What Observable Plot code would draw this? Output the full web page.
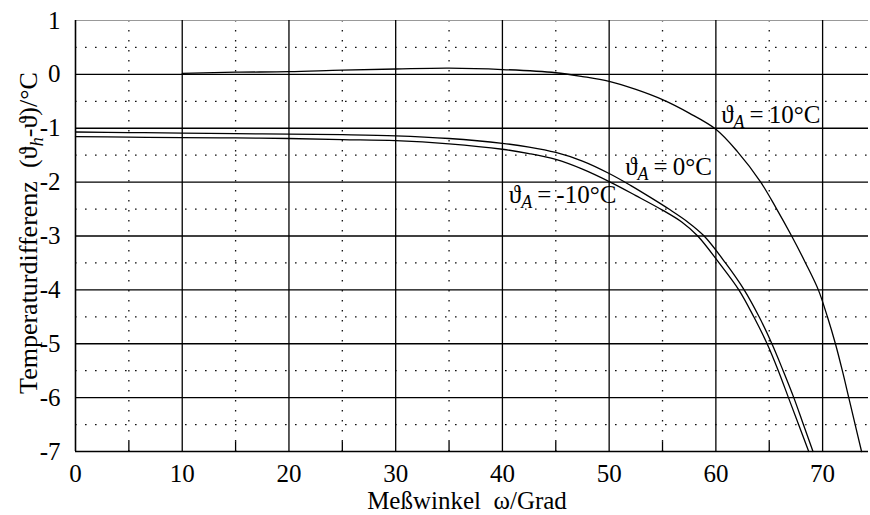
<!DOCTYPE html>
<html><head><meta charset="utf-8">
<script src="https://cdn.jsdelivr.net/npm/d3@7"></script>
<script src="https://cdn.jsdelivr.net/npm/@observablehq/plot@0.6"></script>
<style>body{margin:0;background:#fff} svg{display:block}</style>
</head><body><div id="chart"></div>
<script>
// Tick values
const xTicks = [0, 10, 20, 30, 40, 50, 60, 70];
const yTicks = [1, 0, -1, -2, -3, -4, -5, -6, -7];
const xMajorGrid = [10, 20, 30, 40, 50, 60, 70];
const yMajorGrid = [0, -1, -2, -3, -4, -5, -6];
const xMinorGrid = [5, 15, 25, 35, 45, 55, 65];
const yMinorGrid = [0.5, -0.5, -1.5, -2.5, -3.5, -4.5, -5.5, -6.5];

// Curve: theta_A = 10 °C
const x10 = [10, 15, 20, 25, 30, 35, 40, 45, 47.5, 50, 52.5, 55, 57.5, 60, 62, 64.2, 65.7, 67.1, 68.4, 69.6, 70.45, 71.2, 71.85, 72.45, 73.05, 73.65];
const y10 = [0.02, 0.04, 0.05, 0.08, 0.10, 0.115, 0.09, 0.03, -0.04, -0.13, -0.28, -0.47, -0.72, -1.02, -1.43, -2.0, -2.5, -3.0, -3.5, -4.0, -4.5, -5.0, -5.5, -6.0, -6.5, -7.0];
// Curve: theta_A = 0 °C
const x0 = [0, 5, 10, 15, 20, 25, 30, 35, 40, 42.5, 45, 47.5, 50, 52, 54, 55.6, 57.3, 58.9, 60.9, 62.65, 64.05, 65.25, 66.3, 67.3, 68.2, 69.1];
const y0 = [-1.07, -1.08, -1.09, -1.10, -1.11, -1.12, -1.14, -1.19, -1.28, -1.35, -1.45, -1.61, -1.84, -2.06, -2.3, -2.5, -2.73, -3.0, -3.5, -4.0, -4.5, -5.0, -5.5, -6.0, -6.5, -7.0];
// Curve: theta_A = -10 °C
const xm10 = [0, 5, 10, 15, 20, 25, 30, 35, 40, 42.5, 45, 47.5, 50.1, 52.5, 55, 56.8, 58.3, 60.3, 62.15, 63.55, 64.8, 65.85, 66.8, 67.75, 68.7];
const ym10 = [-1.155, -1.165, -1.175, -1.18, -1.19, -1.21, -1.23, -1.29, -1.39, -1.47, -1.58, -1.76, -2.0, -2.25, -2.52, -2.74, -3.0, -3.5, -4.0, -4.5, -5.0, -5.5, -6.0, -6.5, -7.0];

// Curve labels ("_X" = subscript)
const labelText = ["ϑ_A\u2009=\u200910°C", "ϑ_A\u2009=\u20090°C", "ϑ_A\u2009=\u2009-10°C"];
const labelX = [60.5, 51.5, 40.6];
const labelY = [-0.745, -1.71, -2.23];

const xTitle = "Meßwinkel  ω/Grad";
const yTitle = "Temperaturdifferenz  (ϑ_h-ϑ)/°C";

const serif = "'Liberation Serif', 'Times New Roman', 'DejaVu Serif', serif";
const dotted = {stroke: "#111", strokeWidth: 1.3, strokeDasharray: "1.6,8.4"};
const solid = {stroke: "#000", strokeWidth: 1.3};

const chart = Plot.plot({
  width: 870,
  height: 515,
  marginLeft: 75,
  marginRight: 2,
  marginTop: 20,
  marginBottom: 64,
  x: {domain: [0, 74.3]},
  y: {domain: [-7, 1]},
  style: `font-family: ${serif}; font-size: 25px; background: white; color: black;`,
  marks: [
    Plot.ruleX(xMinorGrid, dotted),
    Plot.ruleY(yMinorGrid, dotted),
    Plot.ruleX(xMinorGrid, {y1: -7, y2: -6.82, ...solid}),
    Plot.ruleY([1], {stroke: "#999", strokeWidth: 1}),
    Plot.ruleX(xMajorGrid, solid),
    Plot.ruleY(yMajorGrid, solid),
    Plot.ruleX([0], {stroke: "#000", strokeWidth: 1.6}),
    Plot.ruleY([-7], {stroke: "#000", strokeWidth: 1.6}),
    Plot.line(x10, {x: x10, y: y10, curve: "catmull-rom", stroke: "#000", strokeWidth: 1.3}),
    Plot.line(x0, {x: x0, y: y0, curve: "catmull-rom", stroke: "#000", strokeWidth: 1.3}),
    Plot.line(xm10, {x: xm10, y: ym10, curve: "catmull-rom", stroke: "#000", strokeWidth: 1.3}),
    Plot.text(labelText, {x: labelX, y: labelY, text: labelText, textAnchor: "start", fontSize: 25, fill: "#000"}),
    Plot.axisX(xTicks, {tickSize: 0, tickPadding: 13, label: null, fontSize: 25, tickFormat: d => String(d)}),
    Plot.axisY(yTicks, {tickSize: 0, tickPadding: 15, label: null, fontSize: 25, tickFormat: d => String(d)})
  ]
});

const NS = "http://www.w3.org/2000/svg";
function subscriptify(el) {
  const s = el.textContent;
  if (!s.includes("_")) return;
  el.textContent = "";
  const parts = s.split(/_(.)/);
  let prevSub = false;
  parts.forEach((p, i) => {
    if (!p) return;
    const t = document.createElementNS(NS, "tspan");
    if (i % 2 === 1) {
      t.setAttribute("font-size", "0.72em");
      t.setAttribute("font-style", "italic");
      t.setAttribute("dy", "0.3em");
      prevSub = true;
    } else if (prevSub) {
      t.setAttribute("dy", "-0.216em");
      prevSub = false;
    }
    t.textContent = p;
    el.appendChild(t);
  });
}

const svg = d3.select(chart);
svg.append("text")
  .attr("x", 467).attr("y", 509)
  .attr("text-anchor", "middle")
  .attr("font-size", 25)
  .attr("fill", "#000")
  .text(xTitle);
svg.append("text")
  .attr("transform", "translate(37,233) rotate(-90)")
  .attr("text-anchor", "middle")
  .attr("font-size", 26)
  .attr("fill", "#000")
  .text(yTitle);

svg.selectAll("text").attr("font-family", serif).each(function() { subscriptify(this); });

document.getElementById("chart").appendChild(chart);
</script>
</body></html>
